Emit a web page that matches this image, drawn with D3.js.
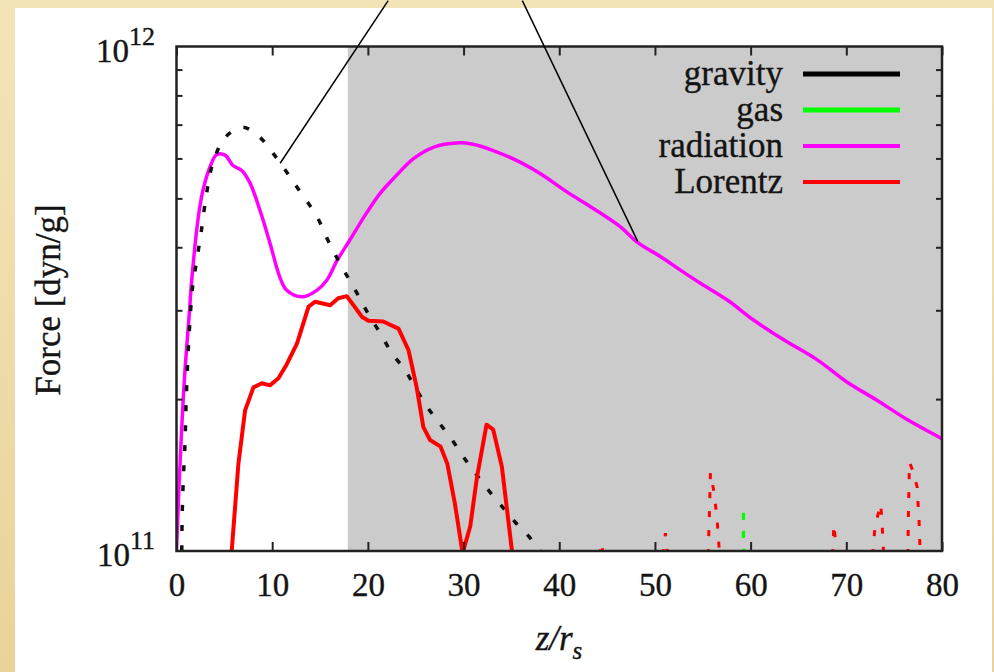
<!DOCTYPE html>
<html>
<head>
<meta charset="utf-8">
<script src="https://cdn.jsdelivr.net/npm/d3@7"></script>
<style>
  html, body { margin: 0; padding: 0; background: #eedcaa; }
  svg { display: block; }
  text { font-family: "Liberation Serif", "Times New Roman", serif; fill: #141414; stroke: #141414; stroke-width: 0.35px; }
</style>
</head>
<body>
<svg id="chart" width="994" height="672"></svg>
<script>
// Fuerzas a lo largo de z/r_s (dyn/g)
const xTicks = [0, 10, 20, 30, 40, 50, 60, 70, 80];
const yMinor = [2e11, 3e11, 4e11, 5e11, 6e11, 7e11, 8e11, 9e11];
const yMajor = [{ v: 1e11, exp: "11" }, { v: 1e12, exp: "12" }];
const shadeStart = 17.9;

const gravZ = [0.55, 0.6, 0.71, 0.89, 1.0, 1.18, 1.41, 1.69, 2.1, 2.6, 3.15, 3.8, 5.08, 6.9, 8.7, 10.1, 11.4, 12.6, 14.7, 15.9, 16.9, 17.9, 19.0, 20.0, 21.3, 22.5, 23.9, 25.0, 26.2, 27.4, 28.8, 30.0, 31.2, 32.6, 34.1, 35.4, 36.8, 38.0, 39.0];
const gravF = [1.0e11, 1.19e11, 1.38e11, 1.64e11, 1.96e11, 2.39e11, 2.87e11, 3.35e11, 3.75e11, 4.32e11, 5.12e11, 5.87e11, 6.6e11, 6.92e11, 6.61e11, 6.14e11, 5.68e11, 5.26e11, 4.59e11, 4.10e11, 3.77e11, 3.49e11, 3.21e11, 2.96e11, 2.70e11, 2.47e11, 2.28e11, 2.10e11, 1.93e11, 1.80e11, 1.66e11, 1.535e11, 1.43e11, 1.32e11, 1.22e11, 1.14e11, 1.07e11, 1.0e11, 0.95e11];

const radZ = [0.0, 0.29, 0.82, 1.34, 1.59, 2.28, 2.77, 3.5, 4.2, 5.07, 5.91, 6.82, 7.69, 8.73, 9.78, 10.8, 11.5, 13.1, 14.7, 15.7, 16.8, 18.1, 19.9, 21.3, 22.7, 24.8, 26.9, 29.3, 31.0, 33.1, 35.9, 38.0, 40.8, 43.6, 46.4, 48.1, 50.6, 52.7, 54.8, 57.6, 60.3, 63.5, 67.0, 70.1, 73.2, 76.4, 80.0];
const radF = [1.0e11, 1.38e11, 2.18e11, 2.96e11, 3.44e11, 4.59e11, 5.19e11, 5.77e11, 6.11e11, 6.09e11, 5.81e11, 5.68e11, 5.36e11, 4.73e11, 4.07e11, 3.49e11, 3.29e11, 3.19e11, 3.29e11, 3.44e11, 3.77e11, 4.13e11, 4.69e11, 5.12e11, 5.48e11, 6.0e11, 6.32e11, 6.44e11, 6.40e11, 6.22e11, 5.90e11, 5.60e11, 5.15e11, 4.77e11, 4.39e11, 4.10e11, 3.83e11, 3.60e11, 3.39e11, 3.14e11, 2.87e11, 2.62e11, 2.39e11, 2.16e11, 1.99e11, 1.82e11, 1.67e11];

const lorZ = [5.7, 5.77, 6.47, 7.17, 8.04, 8.91, 9.78, 10.65, 11.5, 12.6, 13.8, 14.5, 16.06, 16.9, 17.8, 19.4, 20.06, 21.6, 23.2, 24.25, 25.1, 25.8, 26.5, 27.6, 28.3, 29.1, 29.9, 30.7, 31.4, 32.4, 33.1, 34.0, 35.06, 35.2];
const lorF = [0.9e11, 1.0e11, 1.49e11, 1.90e11, 2.11e11, 2.15e11, 2.13e11, 2.20e11, 2.34e11, 2.58e11, 3.05e11, 3.12e11, 3.07e11, 3.17e11, 3.20e11, 2.91e11, 2.86e11, 2.85e11, 2.76e11, 2.50e11, 2.11e11, 1.76e11, 1.66e11, 1.61e11, 1.49e11, 1.24e11, 0.99e11, 1.12e11, 1.40e11, 1.78e11, 1.74e11, 1.47e11, 1.0e11, 0.9e11];

// tramos negativos (trazo discontinuo), null = corte
const lorNegZ = [43.9, 44.4, 44.9, null, 50.6, 51.1, 51.5, null, 55.5, 55.7, 55.8, 56.2, 56.5, 56.9, null, 68.5, 68.7, 69.2, null, 72.6, 73.0, 73.6, 73.8, 74.0, null, 76.4, 76.5, 76.6, 76.9, 77.4, 77.6, 77.8];
const lorNegF = [0.9e11, 1.04e11, 0.9e11, null, 0.9e11, 1.085e11, 0.9e11, null, 0.9e11, 1.2e11, 1.43e11, 1.3e11, 1.15e11, 0.9e11, null, 0.9e11, 1.13e11, 0.9e11, null, 0.9e11, 1.12e11, 1.24e11, 1.08e11, 0.9e11, null, 0.9e11, 1.2e11, 1.5e11, 1.45e11, 1.34e11, 1.15e11, 0.9e11];

const gasNegZ = [59.2, 59.25, 59.3];
const gasNegF = [0.9e11, 1.22e11, 0.9e11];

const legendNames = ["gravity", "gas", "radiation", "Lorentz"];
const legendColors = ["#000000", "#00ff00", "#ff00ff", "#ff0000"];

// lineas de llamada (z, F)
const callouts = [
  [[22.12, 1.233e12], [10.83, 5.87e11]],
  [[36.14, 1.233e12], [48.2, 4.11e11]]
];

const width = 994, height = 672;
const pLeft = 176.5, pRight = 942, pTop = 46.5, pBottom = 551;

const svg = d3.select("#chart");

// fondo tipo diapositiva
const defs = svg.append("defs");
const grad = defs.append("linearGradient").attr("id", "beige")
  .attr("x1", 0).attr("x2", 0).attr("y1", 0).attr("y2", 1);
grad.append("stop").attr("offset", 0).attr("stop-color", "#f3e4b8");
grad.append("stop").attr("offset", 1).attr("stop-color", "#ead39a");
svg.append("rect").attr("width", width).attr("height", height).attr("fill", "url(#beige)");
svg.append("rect").attr("x", 15).attr("y", 8).attr("width", 977).attr("height", height - 8).attr("fill", "#fff");

const x = d3.scaleLinear().domain([0, 80]).range([pLeft, pRight]);
const y = d3.scaleLog().domain([1e11, 1e12]).range([pBottom, pTop]);

defs.append("clipPath").attr("id", "plot")
  .append("rect").attr("x", pLeft).attr("y", pTop).attr("width", pRight - pLeft).attr("height", pBottom - pTop);

// zona sombreada
svg.append("rect")
  .attr("x", x(shadeStart)).attr("y", pTop)
  .attr("width", x(80) - x(shadeStart)).attr("height", pBottom - pTop)
  .attr("fill", "#cbcbcb");

const pts = (zs, fs) => zs.map((z, i) => [z, fs[i]]);
const line = d3.line()
  .defined(d => d[0] != null && d[1] != null)
  .x(d => x(d[0])).y(d => y(d[1]));
const smooth = d3.line().x(d => x(d[0])).y(d => y(d[1])).curve(d3.curveCatmullRom);

const g = svg.append("g").attr("clip-path", "url(#plot)");

g.append("path").datum(pts(radZ, radF))
  .attr("d", smooth).attr("fill", "none")
  .attr("stroke", "#ff00ff").attr("stroke-width", 3.5);

g.append("path").datum(pts(gravZ, gravF))
  .attr("d", smooth).attr("fill", "none")
  .attr("stroke", "#111").attr("stroke-width", 3.5)
  .attr("stroke-dasharray", "6,14");

g.append("path").datum(pts(lorZ, lorF))
  .attr("d", line).attr("fill", "none")
  .attr("stroke", "#ff0000").attr("stroke-width", 4)
  .attr("stroke-linejoin", "round");

g.append("path").datum(pts(lorNegZ, lorNegF))
  .attr("d", line).attr("fill", "none")
  .attr("stroke", "#ff0000").attr("stroke-width", 3)
  .attr("stroke-dasharray", "6,13");

g.append("path").datum(pts(gasNegZ, gasNegF))
  .attr("d", line).attr("fill", "none")
  .attr("stroke", "#00ff00").attr("stroke-width", 3)
  .attr("stroke-dasharray", "6,12");

// ejes
const axisStyle = sel => {
  sel.select(".domain").remove();
  sel.selectAll(".tick line").attr("stroke", "#222").attr("stroke-width", 2);
};

svg.append("g").attr("transform", `translate(0,${pBottom})`)
  .call(d3.axisBottom(x).tickValues(xTicks).tickSizeInner(-9).tickSizeOuter(0))
  .call(axisStyle)
  .call(s => s.selectAll("text")
    .attr("y", 45).attr("dy", null)
    .style("font-family", "Liberation Serif").style("font-size", "33px").attr("fill", "#141414"));

svg.append("g").attr("transform", `translate(0,${pTop})`)
  .call(d3.axisTop(x).tickValues(xTicks).tickSizeInner(-9).tickSizeOuter(0).tickFormat(""))
  .call(axisStyle);

svg.append("g").attr("transform", `translate(${pLeft},0)`)
  .call(d3.axisLeft(y).tickValues(yMinor).tickSizeInner(-6).tickSizeOuter(0).tickFormat(""))
  .call(axisStyle);

svg.append("g").attr("transform", `translate(${pRight},0)`)
  .call(d3.axisRight(y).tickValues(yMinor).tickSizeInner(-6).tickSizeOuter(0).tickFormat(""))
  .call(axisStyle);

svg.append("rect")
  .attr("x", pLeft).attr("y", pTop).attr("width", pRight - pLeft).attr("height", pBottom - pTop)
  .attr("fill", "none").attr("stroke", "#222").attr("stroke-width", 2.5);

// etiquetas 10^n
yMajor.forEach(t => {
  const txt = svg.append("text")
    .attr("x", 155).attr("y", y(t.v) + 15)
    .attr("text-anchor", "end").style("font-size", "33px");
  txt.append("tspan").text("10");
  txt.append("tspan").attr("dy", -17).style("font-size", "26px").text(t.exp);
});

// titulos
svg.append("text")
  .attr("transform", "translate(60,300) rotate(-90)")
  .attr("text-anchor", "middle").style("font-size", "35px")
  .text("Force [dyn/g]");

const xt = svg.append("text")
  .attr("x", 559).attr("y", 650)
  .attr("text-anchor", "middle").style("font-size", "35px").style("font-style", "italic");
xt.append("tspan").text("z/r");
xt.append("tspan").attr("dy", 9).style("font-size", "25px").text("s");

// leyenda
const legend = svg.append("g");
legendNames.forEach((name, i) => {
  const ly = 74 + i * 36;
  legend.append("text")
    .attr("x", 783).attr("y", ly + 11)
    .attr("text-anchor", "end").style("font-size", "35px")
    .text(name);
  legend.append("line")
    .attr("x1", 803).attr("x2", 900).attr("y1", ly).attr("y2", ly)
    .attr("stroke", legendColors[i]).attr("stroke-width", i < 2 ? 5 : 4);
});

// llamadas
svg.append("g").selectAll("line")
  .data(callouts)
  .join("line")
  .attr("x1", d => x(d[0][0])).attr("y1", d => y(d[0][1]))
  .attr("x2", d => x(d[1][0])).attr("y2", d => y(d[1][1]))
  .attr("stroke", "#000").attr("stroke-width", 1.5);
</script>
</body>
</html>
